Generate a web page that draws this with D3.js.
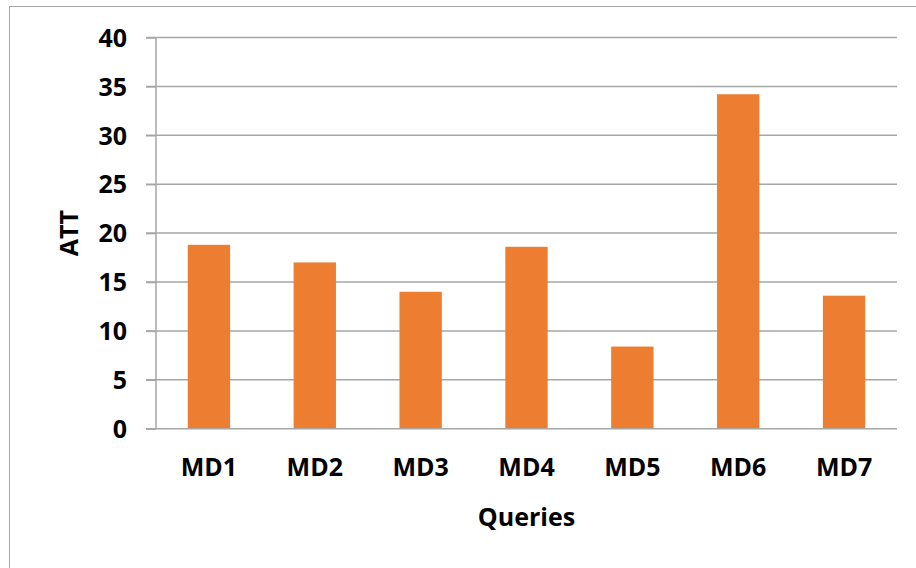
<!DOCTYPE html>
<html><head><meta charset="utf-8">
<script src="https://cdn.jsdelivr.net/npm/d3@7"></script>
<style>
html,body{margin:0;padding:0;background:#fff;overflow:hidden}
text{font-family:"Open Sans","Noto Sans",sans-serif;font-weight:bold;fill:#000}
</style></head>
<body><svg id="c" width="916" height="568"></svg>
<script>
const categories = ["MD1","MD2","MD3","MD4","MD5","MD6","MD7"];
const values = [18.8, 17.0, 14.0, 18.6, 8.4, 34.2, 13.6];
const yTicks = [0,5,10,15,20,25,30,35,40];
const xTitle = "Queries";
const yTitle = "ATT";

const svg = d3.select("#c");
svg.append("rect").attr("x",9.5).attr("y",6.5).attr("width",1000).attr("height",1000)
  .attr("fill","none").attr("stroke","#a6a6a6").attr("stroke-width",1);

const L=156, R=897, T=37.5, B=428.7;
const x = d3.scaleBand().domain(categories).range([L,R]).paddingInner(0.6).paddingOuter(0.3);
const y = d3.scaleLinear().domain([0,40]).range([B,T]);

// gridlines
svg.append("g").selectAll("line").data(yTicks.filter(d=>d>0)).join("line")
  .attr("x1",L-10).attr("x2",R).attr("y1",d=>y(d)).attr("y2",d=>y(d))
  .attr("stroke","#a6a6a6").attr("stroke-width",1.5);

// bars
svg.append("g").selectAll("rect").data(values).join("rect")
  .attr("x",(d,i)=>x(categories[i])).attr("width",x.bandwidth())
  .attr("y",d=>y(d)).attr("height",d=>y(0)-y(d))
  .attr("fill","#ed7d31");

// y axis
const ya = svg.append("g").attr("transform",`translate(${L},0)`)
  .call(d3.axisLeft(y).tickValues(yTicks).tickSize(10).tickPadding(19));
ya.select(".domain").attr("stroke","#a6a6a6").attr("stroke-width",1.5).attr("d",`M0,${T}V${B}`);
ya.selectAll(".tick line").attr("stroke","#a6a6a6").attr("stroke-width",1.5);
ya.selectAll(".tick text").style("font-size","25px").attr("fill","#000").attr("dy","0.35em");

// x axis
const xa = svg.append("g").attr("transform",`translate(0,${B})`)
  .call(d3.axisBottom(x).tickSize(0).tickPadding(29.5));
xa.select(".domain").attr("stroke","#a6a6a6").attr("stroke-width",1.5).attr("d",`M${L-10},0H${R}`);
xa.selectAll(".tick text").style("font-size","25px").attr("fill","#000");

svg.append("text").attr("x",(L+R)/2).attr("y",526).attr("text-anchor","middle")
  .style("font-size","25px").text(xTitle);
svg.append("text").attr("transform",`translate(78,${(T+B)/2}) rotate(-90)`).attr("text-anchor","middle")
  .style("font-size","25px").text(yTitle);
</script></body></html>
